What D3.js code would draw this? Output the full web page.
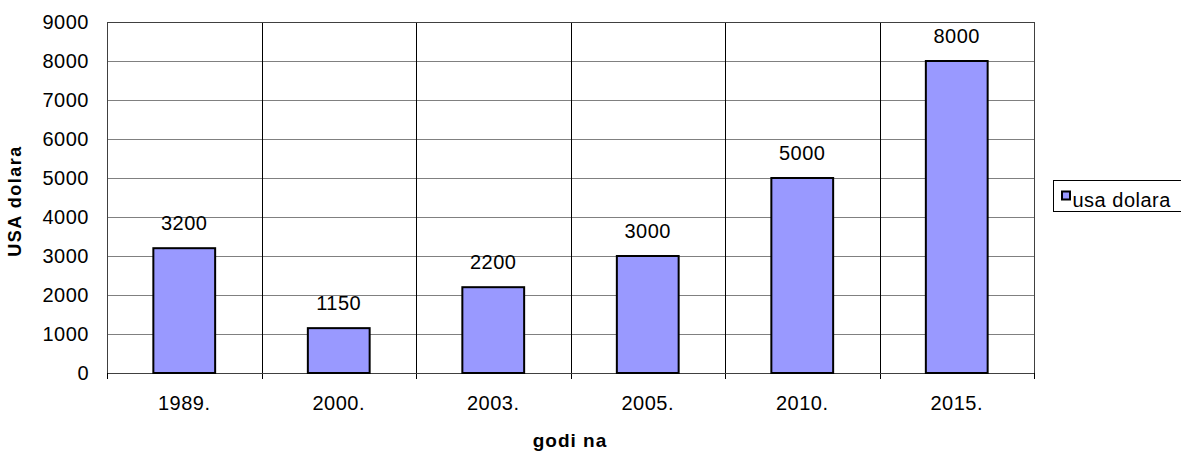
<!DOCTYPE html>
<html>
<head>
<meta charset="utf-8">
<script src="https://cdn.jsdelivr.net/npm/d3@7"></script>
<style>
  body { margin: 0; background: #fff; }
  svg { display: block; font-family: "Liberation Sans", Arial, sans-serif; }
</style>
</head>
<body>
<div id="chart"></div>
<script>
const years = ['1989.', '2000.', '2003.', '2005.', '2010.', '2015.'];
const values = [3200, 1150, 2200, 3000, 5000, 8000];
const yTicks = [0, 1000, 2000, 3000, 4000, 5000, 6000, 7000, 8000, 9000];
const seriesName = 'usa dolara';

const outerWidth = 1181;
const outerHeight = 451;
const margin = { top: 22, right: 147, bottom: 78, left: 107 };
const width = outerWidth - margin.left - margin.right;
const height = outerHeight - margin.top - margin.bottom;
const font = '"Liberation Sans", Arial, sans-serif';

const svg = d3.select('#chart')
  .append('svg')
  .attr('width', outerWidth)
  .attr('height', outerHeight);

const g = svg.append('g')
  .attr('transform', `translate(${margin.left}, ${margin.top})`);

const x = d3.scaleBand().domain(years).range([0, width]).paddingInner(0).paddingOuter(0);
const y = d3.scaleLinear().domain([0, 9000]).range([height, 0]);

// horizontal grid
g.append('g')
  .selectAll('line')
  .data(yTicks)
  .join('line')
  .attr('x1', 0)
  .attr('x2', width)
  .attr('y1', d => Math.round(y(d)) + 0.5)
  .attr('y2', d => Math.round(y(d)) + 0.5)
  .attr('stroke', '#808080')
  .attr('stroke-width', 1);

// vertical dividers between categories
g.append('g')
  .selectAll('line')
  .data(years.slice(1))
  .join('line')
  .attr('x1', d => Math.round(x(d)) + 0.5)
  .attr('x2', d => Math.round(x(d)) + 0.5)
  .attr('y1', 0)
  .attr('y2', height + 6)
  .attr('stroke', '#000')
  .attr('stroke-width', 1);

// plot border
g.append('rect')
  .attr('x', 0.5)
  .attr('y', 0.5)
  .attr('width', width)
  .attr('height', height)
  .attr('fill', 'none')
  .attr('stroke', '#404040')
  .attr('stroke-width', 1);

// bars
const barW = x.bandwidth() * 0.4;
g.append('g')
  .selectAll('rect')
  .data(values)
  .join('rect')
  .attr('x', (d, i) => x(years[i]) + (x.bandwidth() - barW) / 2)
  .attr('y', d => y(d))
  .attr('width', barW)
  .attr('height', d => height - y(d))
  .attr('fill', '#9999ff')
  .attr('stroke', '#000')
  .attr('stroke-width', 2);

// value labels
g.append('g')
  .selectAll('text')
  .data(values)
  .join('text')
  .attr('x', (d, i) => x(years[i]) + x.bandwidth() / 2)
  .attr('y', d => y(d) - 18)
  .attr('text-anchor', 'middle')
  .attr('font-size', 20)
  .attr('letter-spacing', 0.5)
  .attr('fill', '#000')
  .text(d => d);

// y axis
const yAxis = d3.axisLeft(y).tickValues(yTicks).tickSize(0).tickPadding(18).tickFormat(d3.format('d'));
const gy = g.append('g').call(yAxis);
gy.select('.domain').remove();
gy.selectAll('text').attr('font-size', 20).attr('letter-spacing', 0.5)
  .attr('fill', '#000').attr('font-family', font);

// x axis
const xAxis = d3.axisBottom(x).tickSize(0).tickPadding(23);
const gx = g.append('g').attr('transform', `translate(0, ${height})`).call(xAxis);
gx.select('.domain').remove();
gx.selectAll('text').attr('font-size', 20).attr('letter-spacing', 0.5)
  .attr('fill', '#000').attr('font-family', font);

// ticks at edges
g.append('g')
  .selectAll('line')
  .data([0, width])
  .join('line')
  .attr('x1', d => Math.round(d) + 0.5)
  .attr('x2', d => Math.round(d) + 0.5)
  .attr('y1', height)
  .attr('y2', height + 6)
  .attr('stroke', '#000');

// axis titles
svg.append('text')
  .attr('x', 570)
  .attr('y', 447)
  .attr('text-anchor', 'middle')
  .attr('font-size', 19)
  .attr('font-weight', 'bold')
  .attr('letter-spacing', 1)
  .text('godi na');

svg.append('text')
  .attr('transform', 'translate(21, 201) rotate(-90)')
  .attr('text-anchor', 'middle')
  .attr('font-size', 18)
  .attr('font-weight', 'bold')
  .attr('letter-spacing', 1.5)
  .text('USA dolara');

// legend
const legend = svg.append('g').attr('transform', 'translate(1053.5, 180.5)');
legend.append('rect')
  .attr('width', 140)
  .attr('height', 31)
  .attr('fill', '#fff')
  .attr('stroke', '#000');
legend.append('rect')
  .attr('x', 8.5)
  .attr('y', 11)
  .attr('width', 8)
  .attr('height', 8)
  .attr('fill', '#9999ff')
  .attr('stroke', '#000')
  .attr('stroke-width', 2);
legend.append('text')
  .attr('x', 19)
  .attr('y', 26)
  .attr('font-size', 20)
  .attr('letter-spacing', 0.5)
  .text(seriesName);
</script>
</body>
</html>
